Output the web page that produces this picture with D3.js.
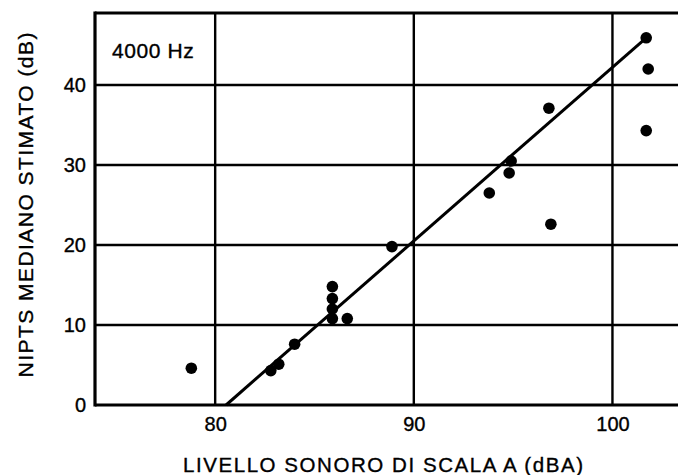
<!DOCTYPE html>
<html>
<head>
<meta charset="utf-8">
<script src="https://cdn.jsdelivr.net/npm/d3@7"></script>
<style>
  html, body { margin: 0; padding: 0; background: #fff; }
  svg { display: block; }
  text { font-family: "Liberation Sans", Arial, sans-serif; fill: #000; stroke: #000; stroke-width: 0.35px; }
</style>
</head>
<body>
<svg id="chart" width="682" height="475"></svg>
<script>
// Sound level (dBA) and estimated median NIPTS (dB) at 4000 Hz
const levelDBA = [78.8, 82.8, 83.2, 84.0, 85.9, 85.9, 85.9, 85.9, 86.65, 88.9,
                  93.8, 94.8, 94.9, 96.8, 96.9, 101.7, 101.8, 101.7];
const niptsDB  = [4.6, 4.3, 5.1, 7.6, 14.8, 13.3, 12.0, 10.8, 10.8, 19.8,
                  26.5, 29.0, 30.5, 37.1, 22.6, 45.9, 42.0, 34.3];

// Fitted line endpoints
const fitX = [80.55, 101.7];
const fitY = [0, 45.9];

const xTicks = [80, 90, 100];
const yTicks = [0, 10, 20, 30, 40];

(function draw() {
  const svg = d3.select("#chart");
  const mLeft = 95, mRight = 678, mTop = 13, mBottom = 405;
  const font = "Liberation Sans, Arial, sans-serif";

  const x = d3.scaleLinear().domain([73.95, 103.3]).range([mLeft, mRight]);
  const y = d3.scaleLinear().domain([0, 49]).range([mBottom, mTop]);

  // Grid lines
  svg.append("g").selectAll("line").data(xTicks).join("line")
    .attr("x1", d => x(d)).attr("x2", d => x(d))
    .attr("y1", mTop).attr("y2", mBottom)
    .attr("stroke", "#000").attr("stroke-width", 2.4);
  svg.append("g").selectAll("line").data(yTicks.filter(d => d > 0)).join("line")
    .attr("x1", mLeft).attr("x2", mRight)
    .attr("y1", d => y(d)).attr("y2", d => y(d))
    .attr("stroke", "#000").attr("stroke-width", 2.4);

  // Frame: left, bottom, top
  svg.append("line").attr("x1", mLeft).attr("x2", mLeft).attr("y1", mTop - 1.5).attr("y2", mBottom + 1.5)
    .attr("stroke", "#000").attr("stroke-width", 3.2);
  svg.append("line").attr("x1", mLeft).attr("x2", mRight).attr("y1", mBottom).attr("y2", mBottom)
    .attr("stroke", "#000").attr("stroke-width", 3.2);
  svg.append("line").attr("x1", mLeft).attr("x2", mRight).attr("y1", mTop).attr("y2", mTop)
    .attr("stroke", "#000").attr("stroke-width", 3.2);

  // Axes (labels only; the lines are drawn above)
  const xAxis = svg.append("g").attr("transform", `translate(0,${mBottom})`)
    .call(d3.axisBottom(x).tickValues(xTicks).tickSize(0));
  xAxis.select(".domain").remove();
  xAxis.selectAll("text")
    .attr("y", 26).attr("dy", null)
    .style("font-size", "20px").style("font-family", font);

  const yAxis = svg.append("g").attr("transform", `translate(${mLeft},0)`)
    .call(d3.axisLeft(y).tickValues(yTicks).tickSize(0).tickPadding(9));
  yAxis.select(".domain").remove();
  yAxis.selectAll("text").style("font-size", "20px").style("font-family", font);

  // Regression line
  svg.append("line")
    .attr("x1", x(fitX[0])).attr("y1", y(fitY[0]))
    .attr("x2", x(fitX[1])).attr("y2", y(fitY[1]))
    .attr("stroke", "#000").attr("stroke-width", 3);

  // Data points
  svg.append("g").selectAll("circle").data(levelDBA).join("circle")
    .attr("cx", d => x(d))
    .attr("cy", (d, i) => y(niptsDB[i]))
    .attr("r", 5.8)
    .attr("fill", "#000");

  // Frequency label
  svg.append("text").attr("x", 112).attr("y", 58)
    .style("font-size", "21px").style("letter-spacing", "0.6px").text("4000 Hz");

  // Axis titles
  svg.append("text").attr("x", 383).attr("y", 472).attr("text-anchor", "middle")
    .style("font-size", "20.5px")
    .attr("textLength", 400).attr("lengthAdjust", "spacing")
    .text("LIVELLO  SONORO  DI  SCALA  A  (dBA)");
  svg.append("text")
    .attr("transform", "translate(33,205) rotate(-90)")
    .attr("text-anchor", "middle")
    .style("font-size", "21px")
    .attr("textLength", 345).attr("lengthAdjust", "spacing")
    .text("NIPTS  MEDIANO  STIMATO  (dB)");
})();
</script>
</body>
</html>
